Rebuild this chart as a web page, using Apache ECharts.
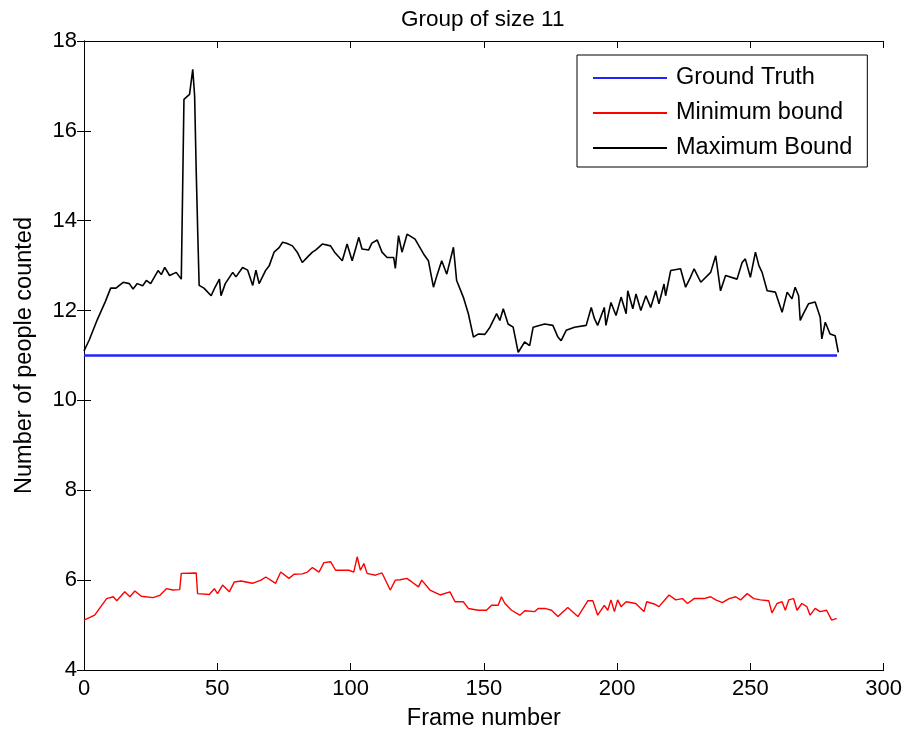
<!DOCTYPE html>
<html>
<head>
<meta charset="utf-8">
<title>Group of size 11</title>
<script src="https://cdn.jsdelivr.net/npm/echarts@6/dist/echarts.min.js"></script>
<style>
  html, body { margin: 0; padding: 0; background: #fff; }
  #chart { width: 905px; height: 738px; }
</style>
</head>
<body>
<div id="chart"></div>
<script>
// ── data ───────────────────────────────────────────────────
const xTicks = [0, 50, 100, 150, 200, 250, 300];
const yTicks = [4, 6, 8, 10, 12, 14, 16, 18];

const truthFrames = [0, 282.5];
const truthVals = [11, 11];

const maxFrames = [0, 2, 5, 8, 10, 12, 14.7, 17, 18.4, 20, 22, 23.4, 25, 27.8, 29, 30.3, 32.1, 34.6, 36.5, 37, 37.5,
  39.6, 40.8, 41.5, 42.1, 42.7, 43.2, 45, 47.7, 49, 50.8, 51.4, 53, 55.8, 57, 59.5, 61.4, 63.3, 64.5, 65.7, 68.2,
  69.5, 71.3, 73.2, 74.5, 76, 78.2, 80, 81.9, 84, 85.7, 87, 89.4, 92.5, 94, 96.9, 98.7, 100.6, 102, 103.1, 104.3,
  106.8, 108, 110, 111.8, 113.7, 116.2, 116.8, 118, 119.3, 121.2, 124.2, 127.4, 129.2, 131.1, 132.5, 134.2, 136.1,
  138.6, 139.8, 142.3, 144.2, 146.1, 148, 150.4, 152.3, 154.8, 156, 157.3, 159.1, 161, 162.9, 165.3, 167.2, 168.5,
  172.8, 175.9, 177.8, 179, 180.9, 184, 188.4, 190.3, 191.5, 192.7, 195.2, 195.8, 197.7, 199.6, 201.5, 203.4, 204,
  205.9, 207.1, 208.9, 210.8, 212.6, 214.5, 215.7, 217.6, 218.2, 220.1, 223.8, 225.7, 227.5, 228.9, 231.4, 235.1,
  237, 238.8, 240.7, 245, 246.9, 248.1, 250, 251.9, 253.2, 254.4, 256.3, 259.4, 261.9, 263.8, 265.6, 266.8, 268.1,
  268.7, 269.9, 271.8, 274.3, 276.2, 276.8, 278.1, 279.9, 281.8, 283];
const maxVals = [11.1, 11.35, 11.8, 12.2, 12.5, 12.5, 12.63, 12.6, 12.48, 12.6, 12.55, 12.67, 12.6, 12.89, 12.8, 12.96,
  12.78, 12.85, 12.7, 14.67, 16.7, 16.81, 17.37, 16.78, 15.1, 13.67, 12.56, 12.5, 12.33, 12.5, 12.7, 12.33, 12.6,
  12.85, 12.75, 12.96, 12.9, 12.56, 12.9, 12.6, 12.9, 13.0, 13.3, 13.4, 13.52, 13.5, 13.44, 13.3, 13.07, 13.2, 13.3,
  13.35, 13.48, 13.44, 13.3, 13.11, 13.48, 13.11, 13.4, 13.63, 13.37, 13.35, 13.5, 13.57, 13.3, 13.18, 13.18, 12.94,
  13.67, 13.3, 13.7, 13.59, 13.26, 13.11, 12.52, 12.8, 13.11, 12.81, 13.41, 12.67, 12.3, 11.93, 11.41, 11.48, 11.47,
  11.63, 11.93, 11.78, 12.04, 11.7, 11.63, 11.07, 11.3, 11.22, 11.63, 11.7, 11.67, 11.41, 11.33, 11.56, 11.63, 11.67,
  12.07, 11.82, 11.67, 12.07, 11.67, 12.18, 11.89, 12.3, 11.93, 12.44, 12.04, 12.37, 12.0, 12.33, 12.07, 12.44, 12.15,
  12.59, 12.33, 12.89, 12.93, 12.52, 12.74, 12.93, 12.63, 12.85, 13.22, 12.44, 12.78, 12.7, 13.07, 13.15, 12.74, 13.3,
  13.0, 12.85, 12.44, 12.41, 11.96, 12.41, 12.26, 12.52, 12.33, 11.78, 11.93, 12.15, 12.19, 11.85, 11.37, 11.74, 11.48,
  11.44, 11.07];

const minFrames = [0, 4, 8.5, 11, 12.3, 15.3, 17.2, 19.1, 21.5, 25.9, 28.4, 30.9, 33.4, 35.9, 36.5, 42.1, 42.6, 47,
  48.9, 50.1, 52, 54.5, 56.4, 58.9, 63.2, 66.4, 68.2, 71.9, 73.8, 76.9, 78.8, 81.9, 83.8, 85.7, 88.2, 90, 92.5, 94.4,
  96.9, 99.4, 101.2, 102.5, 103.7, 105, 106.2, 109.3, 111.8, 114.9, 116.8, 118.6, 121.1, 123, 125.5, 126.7, 129.8,
  133.6, 137.3, 139.2, 142.3, 144.2, 147.9, 151, 152.9, 155.4, 156.6, 157.9, 160.4, 163.5, 165.4, 169.1, 170.4, 172.9,
  175.4, 177.8, 181.5, 185.3, 189, 190.9, 192.7, 195.2, 196.5, 197.7, 199, 200.2, 201.5, 203.4, 207, 208.9, 210.1,
  211.1, 213.9, 215.7, 219.5, 222, 224.5, 226.4, 228.9, 232.6, 235.1, 237, 239.5, 242, 244.5, 246.3, 248.8, 251.3,
  253.8, 256.9, 258.1, 260, 261.9, 263.1, 264.4, 266.2, 267.5, 269.3, 271.2, 272.4, 274.3, 276.1, 278.6, 280.5, 282.4];
const minVals = [5.11, 5.22, 5.59, 5.63, 5.54, 5.74, 5.63, 5.76, 5.64, 5.61, 5.66, 5.81, 5.78, 5.79, 6.15, 6.16, 5.7,
  5.68, 5.81, 5.7, 5.89, 5.74, 5.96, 5.98, 5.93, 6.0, 6.07, 5.93, 6.18, 6.04, 6.13, 6.14, 6.18, 6.28, 6.18, 6.39, 6.41,
  6.22, 6.22, 6.22, 6.18, 6.52, 6.22, 6.37, 6.15, 6.11, 6.16, 5.78, 6.0, 6.01, 6.04, 5.96, 5.85, 6.0, 5.78, 5.67, 5.74,
  5.52, 5.52, 5.37, 5.33, 5.33, 5.44, 5.44, 5.63, 5.48, 5.33, 5.22, 5.32, 5.3, 5.37, 5.37, 5.33, 5.19, 5.39, 5.19,
  5.54, 5.54, 5.22, 5.44, 5.33, 5.56, 5.3, 5.56, 5.41, 5.52, 5.48, 5.37, 5.3, 5.52, 5.47, 5.41, 5.67, 5.56, 5.59,
  5.48, 5.59, 5.59, 5.63, 5.56, 5.5, 5.59, 5.63, 5.56, 5.7, 5.59, 5.56, 5.54, 5.27, 5.48, 5.52, 5.33, 5.56, 5.59,
  5.33, 5.48, 5.41, 5.22, 5.37, 5.3, 5.33, 5.11, 5.15];

// ── chart ──────────────────────────────────────────────────
const FONT = "'Liberation Sans', Arial, Helvetica, sans-serif";
const zip = (xs, ys) => xs.map((x, i) => [x, ys[i]]);

const el = document.getElementById('chart');
const chart = echarts.init(el, null, { renderer: 'canvas' });

const tickStyle = { inside: true, length: 7, lineStyle: { color: '#000', width: 1 } };
const lineAxis = { lineStyle: { color: '#000', width: 1 } };

chart.setOption({
  animation: false,
  backgroundColor: '#fff',
  title: {
    text: 'Group of size 11', left: 396, top: 3,
    textStyle: { fontFamily: FONT, fontSize: 22.5, fontWeight: 'normal', color: '#000' },
  },
  grid: { left: 84, right: 18, top: 41, bottom: 68 },
  legend: {
    orient: 'vertical', left: 577, top: 55,
    borderColor: '#000', borderWidth: 1, backgroundColor: '#fff',
    padding: [11, 15, 7, 16], itemWidth: 74, itemHeight: 2, itemGap: 11, icon: 'rect',
    textStyle: { fontFamily: FONT, fontSize: 23.5, color: '#000', padding: [0, 0, 0, 4] },
    data: ['Ground Truth', 'Minimum bound', 'Maximum Bound'],
  },
  xAxis: [{
    type: 'value', min: xTicks[0], max: xTicks[xTicks.length - 1], interval: 50,
    name: 'Frame number', nameLocation: 'middle', nameGap: 37,
    nameTextStyle: { fontFamily: FONT, fontSize: 23.5, color: '#000' },
    axisLine: lineAxis, axisTick: tickStyle, splitLine: { show: false },
    axisLabel: { fontFamily: FONT, fontSize: 22, color: '#000', margin: 8 },
  }, {
    type: 'value', position: 'top', min: xTicks[0], max: xTicks[xTicks.length - 1], interval: 50,
    axisLine: lineAxis, axisTick: tickStyle, axisLabel: { show: false }, splitLine: { show: false },
  }],
  yAxis: [{
    type: 'value', min: yTicks[0], max: yTicks[yTicks.length - 1], interval: 2,
    name: 'Number of people counted', nameLocation: 'middle', nameGap: 47,
    nameTextStyle: { fontFamily: FONT, fontSize: 23.5, color: '#000' },
    axisLine: { show: true, ...lineAxis }, axisTick: { show: true, ...tickStyle }, splitLine: { show: false },
    axisLabel: { fontFamily: FONT, fontSize: 22, color: '#000', margin: 7 },
  }, {
    type: 'value', position: 'right', min: yTicks[0], max: yTicks[yTicks.length - 1], interval: 2,
    axisLine: { show: true, ...lineAxis }, axisTick: { show: true, ...tickStyle },
    axisLabel: { show: false }, splitLine: { show: false },
  }],
  series: [{
    name: 'Ground Truth', type: 'line', symbol: 'none', z: 3,
    color: '#2222ff', lineStyle: { color: '#2222ff', width: 2.5 },
    data: zip(truthFrames, truthVals),
  }, {
    name: 'Minimum bound', type: 'line', symbol: 'none', z: 2,
    color: '#ff0000', lineStyle: { color: '#ff0000', width: 1.4 },
    data: zip(minFrames, minVals),
  }, {
    name: 'Maximum Bound', type: 'line', symbol: 'none', z: 2,
    color: '#000000', lineStyle: { color: '#000000', width: 1.6 },
    data: zip(maxFrames, maxVals),
  }],
});
</script>
</body>
</html>
